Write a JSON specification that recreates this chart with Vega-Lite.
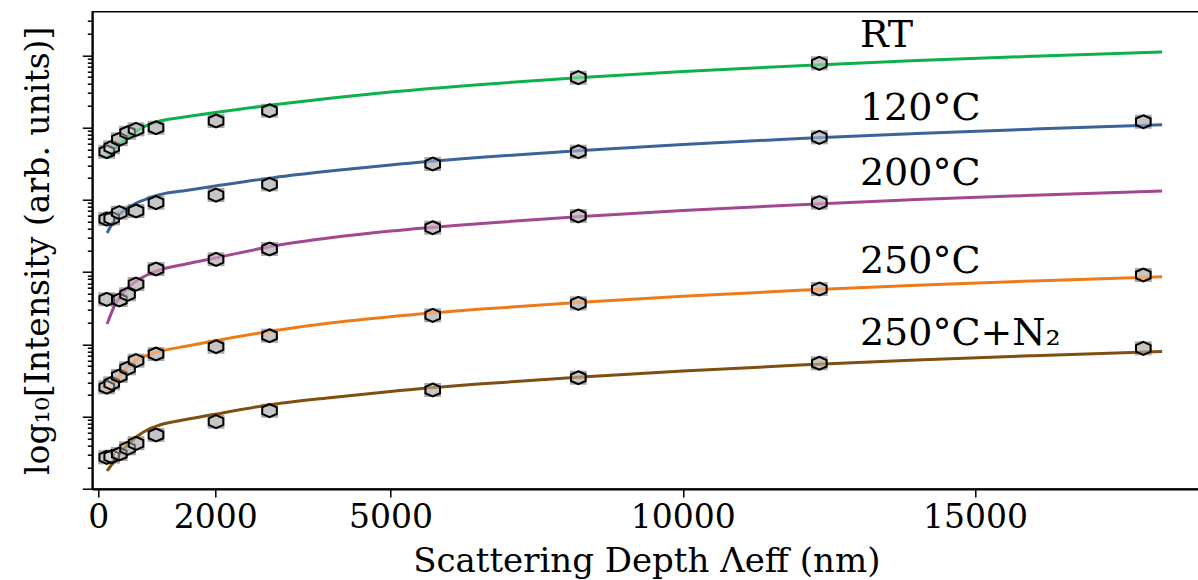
{
  "$schema": "https://vega.github.io/schema/vega-lite/v6.json",
  "width": 1108,
  "height": 477.3,
  "autosize": {"type": "none"},
  "padding": {"left": 92.3, "top": 11.7, "right": 0, "bottom": 91},
  "background": "white",
  "datasets": {
    "fits": [
      {"series": "RT", "depth": 150, "logI": 4.578}, {"series": "RT", "depth": 300, "logI": 4.716}, {"series": "RT", "depth": 450, "logI": 4.83}, {"series": "RT", "depth": 650, "logI": 4.952}, {"series": "RT", "depth": 850, "logI": 5.035}, {"series": "RT", "depth": 1050, "logI": 5.09}, {"series": "RT", "depth": 1500, "logI": 5.148}, {"series": "RT", "depth": 2000, "logI": 5.207}, {"series": "RT", "depth": 3000, "logI": 5.315}, {"series": "RT", "depth": 4000, "logI": 5.409}, {"series": "RT", "depth": 5000, "logI": 5.491}, {"series": "RT", "depth": 6500, "logI": 5.593}, {"series": "RT", "depth": 8200, "logI": 5.688}, {"series": "RT", "depth": 10000, "logI": 5.774}, {"series": "RT", "depth": 12000, "logI": 5.856}, {"series": "RT", "depth": 14000, "logI": 5.926}, {"series": "RT", "depth": 16000, "logI": 5.986}, {"series": "RT", "depth": 18200, "logI": 6.045},
      {"series": "120°C", "depth": 150, "logI": 3.541}, {"series": "120°C", "depth": 300, "logI": 3.748}, {"series": "120°C", "depth": 450, "logI": 3.859}, {"series": "120°C", "depth": 650, "logI": 3.956}, {"series": "120°C", "depth": 850, "logI": 4.018}, {"series": "120°C", "depth": 1050, "logI": 4.07}, {"series": "120°C", "depth": 1500, "logI": 4.13}, {"series": "120°C", "depth": 2000, "logI": 4.19}, {"series": "120°C", "depth": 3000, "logI": 4.307}, {"series": "120°C", "depth": 4000, "logI": 4.401}, {"series": "120°C", "depth": 5000, "logI": 4.483}, {"series": "120°C", "depth": 6500, "logI": 4.585}, {"series": "120°C", "depth": 8200, "logI": 4.68}, {"series": "120°C", "depth": 10000, "logI": 4.766}, {"series": "120°C", "depth": 12000, "logI": 4.848}, {"series": "120°C", "depth": 14000, "logI": 4.918}, {"series": "120°C", "depth": 16000, "logI": 4.978}, {"series": "120°C", "depth": 18200, "logI": 5.037},
      {"series": "200°C", "depth": 150, "logI": 2.282}, {"series": "200°C", "depth": 300, "logI": 2.573}, {"series": "200°C", "depth": 450, "logI": 2.739}, {"series": "200°C", "depth": 650, "logI": 2.877}, {"series": "200°C", "depth": 850, "logI": 2.967}, {"series": "200°C", "depth": 1050, "logI": 3.029}, {"series": "200°C", "depth": 1500, "logI": 3.112}, {"series": "200°C", "depth": 2000, "logI": 3.195}, {"series": "200°C", "depth": 3000, "logI": 3.361}, {"series": "200°C", "depth": 4000, "logI": 3.478}, {"series": "200°C", "depth": 5000, "logI": 3.568}, {"series": "200°C", "depth": 6500, "logI": 3.67}, {"series": "200°C", "depth": 8200, "logI": 3.765}, {"series": "200°C", "depth": 10000, "logI": 3.851}, {"series": "200°C", "depth": 12000, "logI": 3.933}, {"series": "200°C", "depth": 14000, "logI": 4.003}, {"series": "200°C", "depth": 16000, "logI": 4.063}, {"series": "200°C", "depth": 18200, "logI": 4.122},
      {"series": "250°C", "depth": 150, "logI": 1.342}, {"series": "250°C", "depth": 300, "logI": 1.508}, {"series": "250°C", "depth": 450, "logI": 1.646}, {"series": "250°C", "depth": 650, "logI": 1.784}, {"series": "250°C", "depth": 850, "logI": 1.853}, {"series": "250°C", "depth": 1050, "logI": 1.902}, {"series": "250°C", "depth": 1500, "logI": 1.975}, {"series": "250°C", "depth": 2000, "logI": 2.05}, {"series": "250°C", "depth": 3000, "logI": 2.19}, {"series": "250°C", "depth": 4000, "logI": 2.301}, {"series": "250°C", "depth": 5000, "logI": 2.383}, {"series": "250°C", "depth": 6500, "logI": 2.485}, {"series": "250°C", "depth": 8200, "logI": 2.58}, {"series": "250°C", "depth": 10000, "logI": 2.666}, {"series": "250°C", "depth": 12000, "logI": 2.748}, {"series": "250°C", "depth": 14000, "logI": 2.818}, {"series": "250°C", "depth": 16000, "logI": 2.878}, {"series": "250°C", "depth": 18200, "logI": 2.937},
      {"series": "250°C+N₂", "depth": 150, "logI": 0.249}, {"series": "250°C+N₂", "depth": 300, "logI": 0.415}, {"series": "250°C+N₂", "depth": 450, "logI": 0.567}, {"series": "250°C+N₂", "depth": 650, "logI": 0.719}, {"series": "250°C+N₂", "depth": 850, "logI": 0.823}, {"series": "250°C+N₂", "depth": 1050, "logI": 0.885}, {"series": "250°C+N₂", "depth": 1500, "logI": 0.96}, {"series": "250°C+N₂", "depth": 2000, "logI": 1.035}, {"series": "250°C+N₂", "depth": 3000, "logI": 1.173}, {"series": "250°C+N₂", "depth": 4000, "logI": 1.267}, {"series": "250°C+N₂", "depth": 5000, "logI": 1.349}, {"series": "250°C+N₂", "depth": 6500, "logI": 1.451}, {"series": "250°C+N₂", "depth": 8200, "logI": 1.546}, {"series": "250°C+N₂", "depth": 10000, "logI": 1.632}, {"series": "250°C+N₂", "depth": 12000, "logI": 1.714}, {"series": "250°C+N₂", "depth": 14000, "logI": 1.784}, {"series": "250°C+N₂", "depth": 16000, "logI": 1.844}, {"series": "250°C+N₂", "depth": 18200, "logI": 1.903}
    ],
    "measured": [
      {"series": "RT", "depth": 144, "logI": 4.665}, {"series": "RT", "depth": 229, "logI": 4.726}, {"series": "RT", "depth": 359, "logI": 4.837}, {"series": "RT", "depth": 500, "logI": 4.928}, {"series": "RT", "depth": 645, "logI": 4.975}, {"series": "RT", "depth": 987, "logI": 4.997}, {"series": "RT", "depth": 2014, "logI": 5.09}, {"series": "RT", "depth": 2929, "logI": 5.232}, {"series": "RT", "depth": 8212, "logI": 5.689}, {"series": "RT", "depth": 12335, "logI": 5.888},
      {"series": "120°C", "depth": 144, "logI": 3.734}, {"series": "120°C", "depth": 229, "logI": 3.744}, {"series": "120°C", "depth": 359, "logI": 3.822}, {"series": "120°C", "depth": 645, "logI": 3.845}, {"series": "120°C", "depth": 987, "logI": 3.96}, {"series": "120°C", "depth": 2014, "logI": 4.066}, {"series": "120°C", "depth": 2929, "logI": 4.214}, {"series": "120°C", "depth": 5721, "logI": 4.495}, {"series": "120°C", "depth": 8212, "logI": 4.665}, {"series": "120°C", "depth": 12335, "logI": 4.864}, {"series": "120°C", "depth": 17878, "logI": 5.08},
      {"series": "200°C", "depth": 144, "logI": 2.624}, {"series": "200°C", "depth": 359, "logI": 2.614}, {"series": "200°C", "depth": 500, "logI": 2.693}, {"series": "200°C", "depth": 645, "logI": 2.835}, {"series": "200°C", "depth": 987, "logI": 3.043}, {"series": "200°C", "depth": 2014, "logI": 3.177}, {"series": "200°C", "depth": 2929, "logI": 3.32}, {"series": "200°C", "depth": 5721, "logI": 3.614}, {"series": "200°C", "depth": 8212, "logI": 3.776}, {"series": "200°C", "depth": 12335, "logI": 3.96},
      {"series": "250°C", "depth": 144, "logI": 1.407}, {"series": "250°C", "depth": 229, "logI": 1.462}, {"series": "250°C", "depth": 359, "logI": 1.563}, {"series": "250°C", "depth": 500, "logI": 1.669}, {"series": "250°C", "depth": 645, "logI": 1.775}, {"series": "250°C", "depth": 987, "logI": 1.867}, {"series": "250°C", "depth": 2014, "logI": 1.968}, {"series": "250°C", "depth": 2929, "logI": 2.12}, {"series": "250°C", "depth": 5721, "logI": 2.402}, {"series": "250°C", "depth": 8212, "logI": 2.568}, {"series": "250°C", "depth": 12335, "logI": 2.766}, {"series": "250°C", "depth": 17878, "logI": 2.96},
      {"series": "250°C+N₂", "depth": 144, "logI": 0.438}, {"series": "250°C+N₂", "depth": 229, "logI": 0.447}, {"series": "250°C+N₂", "depth": 359, "logI": 0.484}, {"series": "250°C+N₂", "depth": 500, "logI": 0.563}, {"series": "250°C+N₂", "depth": 645, "logI": 0.632}, {"series": "250°C+N₂", "depth": 987, "logI": 0.747}, {"series": "250°C+N₂", "depth": 2014, "logI": 0.931}, {"series": "250°C+N₂", "depth": 2929, "logI": 1.083}, {"series": "250°C+N₂", "depth": 5721, "logI": 1.369}, {"series": "250°C+N₂", "depth": 8212, "logI": 1.539}, {"series": "250°C+N₂", "depth": 12335, "logI": 1.739}, {"series": "250°C+N₂", "depth": 17878, "logI": 1.946}
    ],
    "labels": [
      {"text": "RT", "depth": 13030, "logI": 6.118},
      {"text": "120°C", "depth": 13030, "logI": 5.104},
      {"text": "200°C", "depth": 13030, "logI": 4.205},
      {"text": "250°C", "depth": 13030, "logI": 2.992},
      {"text": "250°C+N₂", "depth": 13030, "logI": 1.992}
    ]
  },
  "encoding": {
    "x": {
      "field": "depth",
      "type": "quantitative",
      "scale": {"domain": [-103, 18853], "nice": false, "zero": false},
      "axis": {
        "title": "Scattering Depth Λeff (nm)",
        "values": [0, 2000, 5000, 10000, 15000],
        "format": "d",
        "labelFontSize": 33,
        "titleFontSize": 34,
        "tickSize": 8,
        "tickWidth": 1.5,
        "domainWidth": 2,
        "labelPadding": 5,
        "titlePadding": 10,
        "labelFlush": false,
        "labelOverlap": false
      }
    },
    "y": {
      "field": "logI",
      "type": "quantitative",
      "scale": {"domain": [0, 6.602], "nice": false, "zero": false},
      "axis": {
        "title": "log₁₀[Intensity (arb. units)]",
        "labels": false,
        "values": [0, 0.30103, 0.47712, 0.60206, 0.69897, 0.77815, 0.8451, 0.90309, 0.95424,
                   1, 1.30103, 1.47712, 1.60206, 1.69897, 1.77815, 1.8451, 1.90309, 1.95424,
                   2, 2.30103, 2.47712, 2.60206, 2.69897, 2.77815, 2.8451, 2.90309, 2.95424,
                   3, 3.30103, 3.47712, 3.60206, 3.69897, 3.77815, 3.8451, 3.90309, 3.95424,
                   4, 4.30103, 4.47712, 4.60206, 4.69897, 4.77815, 4.8451, 4.90309, 4.95424,
                   5, 5.30103, 5.47712, 5.60206, 5.69897, 5.77815, 5.8451, 5.90309, 5.95424,
                   6, 6.30103, 6.47712],
        "tickSize": {"condition": {"test": "datum.value % 1 === 0", "value": 10}, "value": 5},
        "tickWidth": 1.5,
        "domainWidth": 2,
        "titleFontSize": 33,
        "titlePadding": 26
      }
    }
  },
  "layer": [
    {
      "data": {"name": "measured"},
      "mark": {"type": "point", "shape": "M-1.2,-1L1.2,-1L1.2,1L-1.2,1Z", "size": 196, "filled": true, "fill": "#999999", "opacity": 0.85, "strokeWidth": 0}
    },
    {
      "data": {"name": "fits"},
      "mark": {"type": "line", "strokeWidth": 3, "interpolate": "monotone"},
      "encoding": {
        "color": {
          "field": "series",
          "type": "nominal",
          "scale": {"domain": ["RT", "120°C", "200°C", "250°C", "250°C+N₂"], "range": ["#0db14b", "#3b6399", "#a3478f", "#ee7b1a", "#7f4f12"]},
          "legend": null
        },
        "detail": {"field": "series"}
      }
    },
    {
      "data": {"name": "measured"},
      "mark": {"type": "point", "shape": "M0,-1L1.12,-0.5L1.12,0.5L0,1L-1.12,0.5L-1.12,-0.5Z", "size": 169, "filled": false, "fill": "#ffffff", "fillOpacity": 0.35, "stroke": "black", "strokeWidth": 2, "opacity": 1}
    },
    {
      "data": {"name": "labels"},
      "mark": {"type": "text", "align": "left", "baseline": "alphabetic", "font": "DejaVu Serif", "fontSize": 38, "color": "black"},
      "encoding": {"text": {"field": "text"}}
    }
  ],
  "config": {
    "font": "DejaVu Serif",
    "view": {"stroke": "black", "strokeWidth": 1.5},
    "axis": {
      "grid": false,
      "domainColor": "black",
      "tickColor": "black",
      "labelColor": "black",
      "titleColor": "black",
      "labelFont": "DejaVu Serif",
      "titleFont": "DejaVu Serif",
      "titleFontWeight": "normal"
    }
  }
}
